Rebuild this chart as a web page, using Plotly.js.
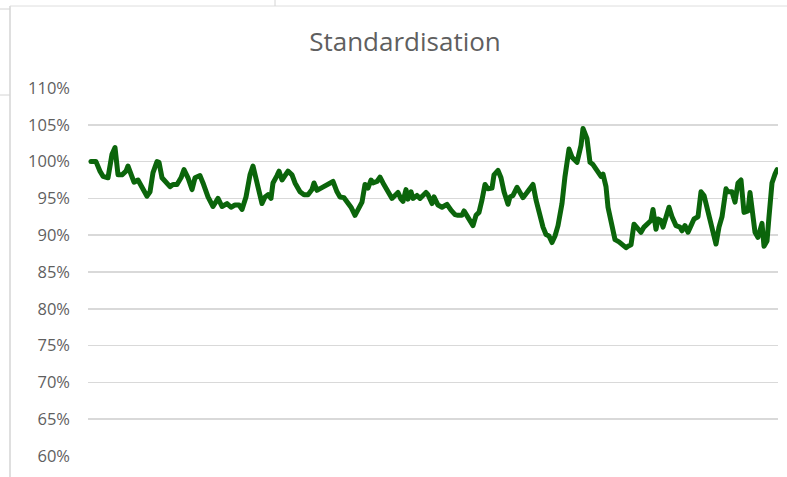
<!DOCTYPE html>
<html>
<head>
<meta charset="utf-8">
<script src="https://cdn.plot.ly/plotly-3.0.1.min.js"></script>
<style>html,body{margin:0;padding:0;background:#fff;}#chart{width:787px;height:477px;}
.scatterlayer path.js-line{stroke-linejoin:round;stroke-linecap:round;}</style>
</head>
<body>
<div id="chart"></div>
<script>
// Time index (arbitrary units) and standardisation values (%)
const period = [1,6,10,13,18,22,25,28,32,36,38,42,44,48,52,57,60,63,67,69,72,77,80,83,87,91,94,98,102,105,110,113,118,123,128,132,137,141,145,149,152,156,160,163,167,172,175,178,181,183,187,189,192,195,198,202,205,210,214,218,222,224,227,231,235,240,243,247,250,254,258,261,265,268,272,275,278,281,283,287,290,293,298,302,305,308,311,313,316,318,321,323,327,330,333,336,338,342,344,348,352,357,361,365,368,372,374,378,381,383,386,389,392,395,398,402,404,408,411,414,418,420,423,427,430,433,437,440,443,446,449,453,456,459,462,465,468,472,475,479,482,487,491,493,497,500,503,507,511,513,516,518,522,525,529,532,536,538,541,544,548,551,554,558,561,563,566,568,571,573,576,579,582,586,590,592,595,598,601,604,608,611,614,618,622,626,629,632,636,638,642,645,648,651,654,658,660,662,665,668,672,674,677,679,682,685,687];
const standardisation = [100.0,100.0,98.7,98.0,97.8,101.0,101.9,98.2,98.2,98.7,99.4,98.2,97.2,97.5,96.6,95.3,95.9,98.5,100.0,99.9,97.8,97.1,96.6,96.9,96.9,97.8,98.9,97.8,96.2,97.8,98.1,97.1,95.2,93.9,95.0,93.9,94.3,93.8,94.1,94.1,93.5,95.2,98.2,99.4,97.0,94.3,95.2,95.5,95.0,97.1,98.1,98.7,97.5,98.2,98.7,98.2,97.1,95.9,95.5,95.5,96.2,97.1,96.1,96.4,96.7,97.2,97.3,95.9,95.2,95.1,94.5,93.8,92.7,93.4,94.5,96.9,96.4,97.5,97.1,97.3,97.9,97.1,95.9,95.0,95.4,95.8,94.9,94.6,96.2,94.9,95.9,95.0,95.4,95.0,95.4,95.8,95.5,94.3,95.2,94.1,93.8,94.2,93.4,92.8,92.7,92.7,93.3,92.5,91.8,91.3,92.7,93.1,94.8,96.9,96.3,96.4,98.2,98.8,97.8,95.9,94.2,95.2,95.4,96.5,95.8,95.1,95.8,96.3,96.9,94.8,92.9,91.1,90.1,89.9,89.0,89.9,91.3,94.3,98.0,101.7,100.6,99.9,102.2,104.5,103.1,99.9,99.6,98.7,98.0,98.3,96.6,93.8,91.1,89.4,89.1,88.8,88.3,88.5,88.7,91.5,90.8,90.4,91.1,91.6,92.0,93.5,90.8,92.2,92.0,91.1,92.5,93.8,92.5,91.3,91.1,90.6,91.3,90.4,91.3,92.2,92.5,95.9,95.4,93.3,90.8,88.8,91.1,92.5,96.3,95.9,95.9,94.5,97.1,97.5,93.1,93.3,95.8,93.1,90.4,89.7,91.6,88.5,89.2,92.5,97.1,98.3,98.9];
const yTicks = [60,65,70,75,80,85,90,95,100,105,110];
const yTickText = yTicks.map(v => v + '%');
const chartTitle = 'Standardisation';

const trace = {
  x: period,
  y: standardisation,
  type: 'scatter',
  mode: 'lines',
  line: {color: '#0b650b', width: 5},
  hoverinfo: 'skip'
};

const grey = '#5f5f5f';
const pl = 88, pr = 778, pw = pr - pl;
const pt = 88, pb = 456, ph = pb - pt;
function px(x){ return (x - pl) / pw; }
function py(y){ return 1 - (y - pt) / ph; }

const layout = {
  width: 787, height: 477,
  margin: {l: pl, r: 787 - pr, t: pt, b: 477 - pb, pad: 0},
  paper_bgcolor: '#ffffff', plot_bgcolor: '#ffffff',
  showlegend: false,
  font: {family: 'Open Sans, Lato, sans-serif', color: grey},
  title: {
    text: chartTitle,
    font: {size: 26, color: grey, family: 'Open Sans, Lato, sans-serif'},
    xref: 'container', yref: 'container',
    x: 405 / 787, y: 1 - 42 / 477, xanchor: 'center', yanchor: 'middle'
  },
  xaxis: {
    range: [-2, 688],
    visible: false,
    showgrid: false, zeroline: false
  },
  yaxis: {
    range: [60, 110],
    tickvals: yTicks, ticktext: yTickText,
    showgrid: true, gridcolor: '#d9d9d9', gridwidth: 1.5,
    zeroline: false, showline: false, ticks: '',
    ticklabelstandoff: 17,
    tickfont: {size: 16.5, color: grey, family: 'Open Sans, Lato, sans-serif'}
  },
  shapes: [
    {type: 'line', xref: 'paper', yref: 'paper', x0: px(10), x1: px(10), y0: py(6), y1: py(477), line: {color: '#d4d4d4', width: 1.5}},
    {type: 'line', xref: 'paper', yref: 'paper', x0: px(10), x1: px(787), y0: py(6), y1: py(6), line: {color: '#dedede', width: 1}},
    {type: 'line', xref: 'paper', yref: 'paper', x0: px(275), x1: px(275), y0: py(0), y1: py(6), line: {color: '#d4d4d4', width: 1}},
    {type: 'line', xref: 'paper', yref: 'paper', x0: px(0), x1: px(10), y0: py(9), y1: py(9), line: {color: '#d4d4d4', width: 1}},
    {type: 'line', xref: 'paper', yref: 'paper', x0: px(0), x1: px(10), y0: py(95), y1: py(95), line: {color: '#d4d4d4', width: 1}}
  ]
};

Plotly.newPlot('chart', [trace], layout, {staticPlot: true, displayModeBar: false});
</script>
</body>
</html>
